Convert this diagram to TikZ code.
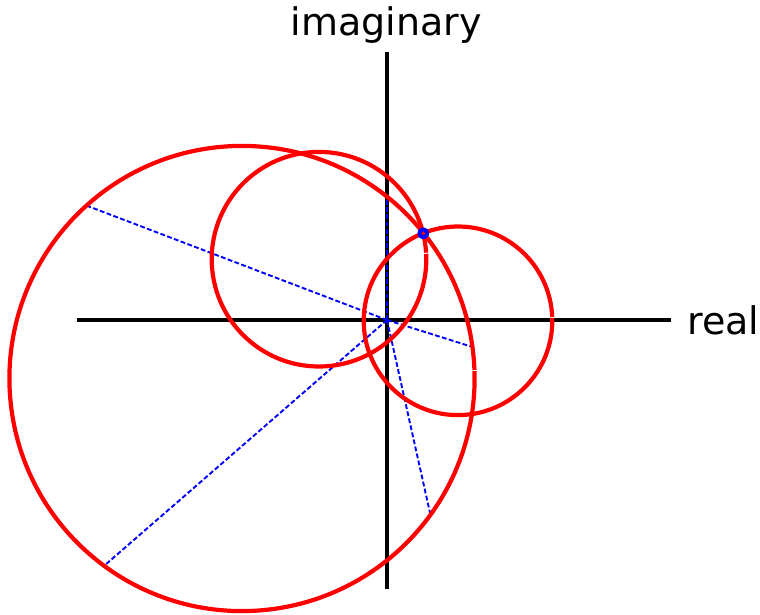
\documentclass[tikz,border=0pt]{standalone}
\usepackage{fontspec}
\setmainfont{DejaVu Sans}
\begin{document}
\begin{tikzpicture}[x=1pt,y=-1pt,
  axis/.style={line width=3.4pt, black},
  ray/.style={blue, line width=1.9pt, dash pattern=on 4.8pt off 2.4pt},
  circ/.style={red, line width=4.2pt},
  lbl/.style={font=\fontsize{38}{45}\selectfont, inner sep=0pt}]
\useasboundingbox (0,0) rectangle (760,615);
% axes
\coordinate (xl) at (77,320);
\coordinate (xr) at (671,320);
\coordinate (yt) at (387,52);
\coordinate (yb) at (387,589);
\draw[axis] (xl) -- (xr);
\draw[axis] (yt) -- (yb);
\node[lbl, anchor=base] (im) at (386.5,36) {imaginary};
\node[lbl, anchor=base west] (re) at (687,334) {real};
% points
\coordinate (O) at (387,320);
\coordinate (P) at (423.3,233.3);
\coordinate (B) at (242,378.5);
\coordinate (M) at (319,259.2);
\coordinate (S) at (458,320.8);
% rays from origin to the big circle
\coordinate (r1) at (85,205);
\coordinate (r2) at (103.3,566.5);
\coordinate (r3) at (430.7,516);
\coordinate (r4) at (473.5,347.3);
\coordinate (r5) at (387,195);
\foreach \e in {r1,r2,r3,r4,r5} \draw[ray] (O) -- (\e);
% circles (with tiny seam)
\draw[circ] (B) ++(-1.8:232.6) arc[start angle=-1.8, end angle=357.9, radius=232.6];
\draw[circ] (M) ++(-2.9:107.3) arc[start angle=-2.9, end angle=356.5, radius=107.3];
\draw[circ] (S) ++(-1.6:94.3) arc[start angle=-1.6, end angle=357.7, radius=94.3];
% marker
\fill[blue] (P) circle (5.8);
\fill[red] (P) circle (1.9);
\end{tikzpicture}
\end{document}
